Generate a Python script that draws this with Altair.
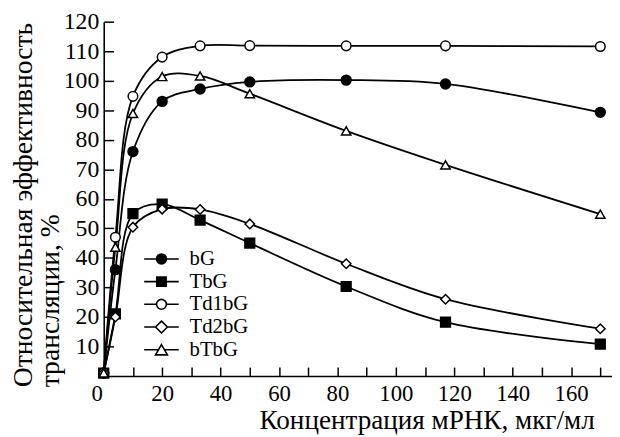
import altair as alt
import pandas as pd

# ---- data ----
conc = [0, 4, 10, 20, 33, 50, 83, 117, 170]
series_names = ["bG", "TbG", "Td1bG", "Td2bG", "bTbG"]
bG = [1, 36, 76, 93, 97.2, 99.6, 100.2, 98.9, 89.3]
TbG = [1, 21, 55, 58.2, 52.8, 45, 30.3, 18.2, 10.8]
Td1bG = [1, 47, 94.7, 108, 111.8, 111.9, 111.8, 111.8, 111.6]
Td2bG = [1, 20, 50.4, 56.5, 56.4, 51.5, 38, 26, 16]
bTbG = [1, 43.6, 88.9, 101.4, 101.6, 95.6, 83, 71.5, 54.8]
x_ticks = list(range(0, 171, 10))
y_ticks = list(range(10, 121, 10))

rows = []
for name, vals in zip(series_names, [bG, TbG, Td1bG, Td2bG, bTbG]):
    for c, v in zip(conc, vals):
        rows.append({"series": name, "conc": c, "value": v})
df = pd.DataFrame(rows)

FONT = "Liberation Serif"

x_enc = alt.X(
    "conc:Q",
    scale=alt.Scale(domain=[0, 174], nice=False, zero=False),
    axis=alt.Axis(
        values=x_ticks,
        labelExpr="datum.value % 20 == 0 ? datum.label : ''",
        labelOffset={"condition": {"test": "datum.value === 0", "value": -13}, "value": 0},
        tickSize={"expr": "-9"},
        labelPadding=16,
        labelFont=FONT,
        labelFontSize=23,
        labelColor="black",
        grid=False,
        title="Концентрация мРНК, мкг/мл",
        titleFont=FONT,
        titleFontSize=27.5,
        titleFontWeight="normal",
        titleColor="black",
        titleAlign="right",
        titleBaseline="alphabetic",
        titleX=497,
        titleY=53.5,
    ),
)
y_enc = alt.Y(
    "value:Q",
    scale=alt.Scale(domain=[0, 120], nice=False),
    axis=alt.Axis(
        values=y_ticks,
        tickSize={"expr": "-10"},
        labelPadding=15,
        labelFont=FONT,
        labelFontSize=24,
        labelColor="black",
        grid=False,
        title=["Относительная эффективность", "трансляции, %"],
        titleFont=FONT,
        titleFontSize=28,
        titleFontWeight="normal",
        titleColor="black",
        titleAngle=270,
        titleAlign="left",
        titleBaseline="alphabetic",
        titleLineHeight=26.7,
        titleX=-73,
        titleY=370,
    ),
)

lines = alt.Chart(df).mark_line(
    interpolate="catmull-rom", color="black", strokeWidth=1.8
).encode(x=x_enc, y=y_enc, detail="series:N")

points = alt.Chart(df).mark_point(
    filled=True, stroke="black", strokeWidth=1.5, opacity=1
).encode(
    x=x_enc,
    y=y_enc,
    shape=alt.Shape("series:N", scale=alt.Scale(domain=series_names,
        range=["circle", "square", "circle", "diamond", "triangle-up"]), legend=None),
    fill=alt.Fill("series:N", scale=alt.Scale(domain=series_names,
        range=["black", "black", "white", "white", "white"]), legend=None),
    size=alt.Size("series:N", scale=alt.Scale(domain=series_names,
        range=[100, 90, 100, 144, 144]), legend=None),
)

legend_paths = [
    "M-1,0L-0.286,0M0.286,0L1,0M0.286,0A0.286,0.286,0,1,1,-0.286,0A0.286,0.286,0,1,1,0.286,0Z",
    "M-1,0L-0.27,0M0.27,0L1,0M-0.27,-0.27L0.27,-0.27L0.27,0.27L-0.27,0.27Z",
    "M-1,0L-0.286,0M0.286,0L1,0M0.286,0A0.286,0.286,0,1,1,-0.286,0A0.286,0.286,0,1,1,0.286,0Z",
    "M-1,0L-0.343,0M0.343,0L1,0M0,-0.343L0.343,0L0,0.343L-0.343,0Z",
    "M-1,0L-0.17,0M0.17,0L1,0M0,-0.297L0.343,0.297L-0.343,0.297Z",
]
leg = alt.Legend(
    title=None, orient="none", legendX=40, legendY=229,
    symbolSize=1225, symbolStrokeWidth=1.6, symbolStrokeColor="black",
    symbolOpacity=1,
    labelFont=FONT, labelFontSize=21, labelColor="black", labelOffset=10,
    clipHeight=22.8, rowPadding=0, padding=0,
)
legend_layer = alt.Chart(df).transform_filter("datum.conc < 0").mark_point(
    filled=False, strokeWidth=1.6, opacity=1
).encode(
    x=x_enc,
    y=y_enc,
    shape=alt.Shape("series:N", scale=alt.Scale(domain=series_names, range=legend_paths), legend=leg),
    fill=alt.Fill("series:N", scale=alt.Scale(domain=series_names,
        range=["black", "black", "white", "white", "white"]), legend=leg),
    stroke=alt.Stroke("series:N", scale=alt.Scale(domain=series_names,
        range=["black", "black", "black", "black", "black"]), legend=leg),
)

chart = alt.layer(lines, points, legend_layer).resolve_scale(
    shape="independent", fill="independent", size="independent", stroke="independent"
).properties(
    width=515, height=359,
    autosize=alt.AutoSizeParams(type="none"),
    padding={"left": 97, "top": 11, "right": 0, "bottom": 59},
).configure_view(stroke=None).configure_axis(
    domainColor="black", domainWidth=1.6, tickColor="black", tickWidth=1.5,
)

chart.save("out.html", embed_options={"renderer": "svg", "actions": False})
